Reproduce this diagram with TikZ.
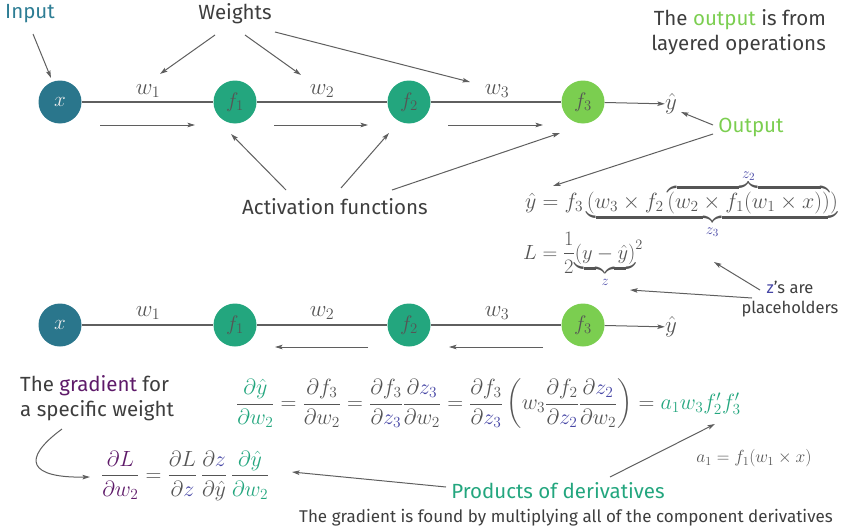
\RequirePackage{fix-cm}
\documentclass[tikz,border=0pt]{standalone}
\usepackage{fontspec}
\setmainfont{Fira Sans}
\usepackage{amsmath}
\usetikzlibrary{arrows.meta}
\definecolor{cx}{RGB}{42,118,140}
\definecolor{cf}{RGB}{35,166,126}
\definecolor{cft}{RGB}{123,206,80}
\definecolor{cin}{RGB}{45,125,148}
\definecolor{cpur}{RGB}{94,26,105}
\definecolor{cz}{RGB}{70,70,165}
\definecolor{tg}{RGB}{62,62,62}
\definecolor{mg}{RGB}{85,85,85}
\definecolor{lg}{RGB}{95,95,95}
\newcommand{\zc}[1]{{\color{cz}#1}}
\tikzset{
  nd/.style={circle, minimum size=43pt, inner sep=0pt, text=mg, font=\fontsize{21}{21}\selectfont},
  lbl/.style={text=tg, font=\fontsize{20.5}{25}\selectfont, inner sep=0pt},
  wl/.style={text=mg, font=\fontsize{23}{23}\selectfont, inner sep=0pt},
  eq/.style={text=mg, font=\fontsize{22}{26}\selectfont, inner sep=0pt},
  ln/.style={draw=lg, line width=1.1pt},
  arr/.style={draw=lg, line width=1pt, -{Stealth[length=7.5pt,width=4.5pt,inset=1.5pt]}},
}
\begin{document}
\begin{tikzpicture}[x=1pt,y=-1pt]
\useasboundingbox (0,0) rectangle (844,530);
% ---------- top row ----------
\node[nd, fill=cx, text=white!85!gray] (xa) at (60,102) {$x$};
\node[nd, fill=cf] (fa1) at (235,102) {$f_1$};
\node[nd, fill=cf] (fa2) at (409,102) {$f_2$};
\node[nd, fill=cft] (fa3) at (583,102) {$f_3$};
\node[wl] (ya) at (671,104) {$\hat y$};
\draw[ln] (xa) -- (fa1);
\draw[ln] (fa1) -- (fa2);
\draw[ln] (fa2) -- (fa3);
\draw[arr] (fa3) -- (ya);
\node[wl] (wa1) at (148,91) {$w_1$};
\node[wl] (wa2) at (322,91) {$w_2$};
\node[wl] (wa3) at (497,91) {$w_3$};
\coordinate (fw1s) at (100,125); \coordinate (fw1e) at (195,125);
\coordinate (fw2s) at (274,125); \coordinate (fw2e) at (368,125);
\coordinate (fw3s) at (448,125); \coordinate (fw3e) at (543,125);
\draw[arr] (fw1s) -- (fw1e);
\draw[arr] (fw2s) -- (fw2e);
\draw[arr] (fw3s) -- (fw3e);
% labels
\node[lbl, text=cin] (input) at (30,14) {Input};
\node[lbl] (weights) at (235,14) {Weights};
\node[lbl] (act) at (335,207) {Activation functions};
\node[lbl, align=right, anchor=north east] (outtxt) at (826,9) {The {\color{cft}output} is from\\layered operations};
\node[lbl, text=cft] (output) at (751,127) {Output};
\coordinate (t1) at (51,78);
\draw[arr] (33,34) -- (t1);
\coordinate (t2) at (160,74); \coordinate (t3) at (301,75); \coordinate (t4) at (470,82);
\draw[arr] (215,35) -- (t2);
\draw[arr] (245,35) -- (t3);
\draw[arr] (275,32) -- (t4);
\coordinate (t5) at (231,134); \coordinate (t6) at (389,133); \coordinate (t7) at (560,133);
\draw[arr] (286,190) -- (t5);
\draw[arr] (341,188) -- (t6);
\draw[arr] (392,190) -- (t7);
\coordinate (t8) at (681,112); \coordinate (t9) at (553,186);
\draw[arr] (713,125) -- (t8);
\draw[arr] (713,134) -- (t9);
% equations right
\node[eq, anchor=base west] (yeq) at (525,208) {$\hat y = f_3\underbrace{(w_3\times f_2\overbrace{(w_2\times f_1(w_1\times x))}^{\zc{z_2}})}_{\zc{z_3}}$};
\node[eq, anchor=base west, font=\fontsize{20.5}{24}\selectfont] (leq) at (523,259) {$L=\dfrac12{\underbrace{(y-\hat y)}_{\zc{z}}}^2$};
\node[lbl, align=center, font=\fontsize{16.5}{20}\selectfont] (zs) at (790,299) {\zc{z}'s are\\placeholders};
\coordinate (t10) at (714,262); \coordinate (t11) at (630,290);
\draw[arr] (760,290) -- (t10);
\draw[arr] (752,298) -- (t11);
% ---------- second row ----------
\node[nd, fill=cx, text=white!85!gray] (xb) at (60,325) {$x$};
\node[nd, fill=cf] (fb1) at (235,325) {$f_1$};
\node[nd, fill=cf] (fb2) at (409,325) {$f_2$};
\node[nd, fill=cft] (fb3) at (583,325) {$f_3$};
\node[wl] (yb) at (671,327) {$\hat y$};
\draw[ln] (xb) -- (fb1);
\draw[ln] (fb1) -- (fb2);
\draw[ln] (fb2) -- (fb3);
\draw[arr] (fb3) -- (yb);
\node[wl] (wb1) at (148,313) {$w_1$};
\node[wl] (wb2) at (322,313) {$w_2$};
\node[wl] (wb3) at (497,313) {$w_3$};
\coordinate (bw2s) at (368,347); \coordinate (bw2e) at (275,347);
\coordinate (bw3s) at (543,347); \coordinate (bw3e) at (449,347);
\draw[arr] (bw2s) -- (bw2e);
\draw[arr] (bw3s) -- (bw3e);
% ---------- bottom ----------
\node[lbl, align=left, anchor=north west] (grad) at (20,375) {The {\color{cpur}gradient} for\\a specific weight};
\node[eq, anchor=west] (deq) at (236,404) {$\dfrac{\color{cf}\partial\hat y}{\color{cf}\partial w_2}=\dfrac{\partial f_3}{\partial w_2}=\dfrac{\partial f_3}{\partial \zc{z_3}}\dfrac{\partial \zc{z_3}}{\partial w_2}=\dfrac{\partial f_3}{\partial \zc{z_3}}\left(w_3\dfrac{\partial f_2}{\partial \zc{z_2}}\dfrac{\partial \zc{z_2}}{\partial w_2}\right)={\color{cf}a_1w_3f_2'f_3'}$};
\node[eq, anchor=west] (leq2) at (101,476) {$\dfrac{\color{cpur}\partial L}{\color{cpur}\partial w_2}=\dfrac{\partial L}{\partial \zc{z}}\,\dfrac{\partial \zc{z}}{\partial\hat y}\,\dfrac{\color{cf}\partial\hat y}{\color{cf}\partial w_2}$};
\node[eq, font=\fontsize{17.5}{20}\selectfont] (a1) at (754,458) {$a_1=f_1(w_1\times x)$};
\node[lbl, text=cf] (prod) at (558,491) {Products of derivatives};
\node[lbl, font=\fontsize{17}{20}\selectfont] (bot) at (566,518) {The gradient is found by multiplying all of the component derivatives};
\coordinate (t12) at (90,477);
\draw[arr] (62,429) .. controls (20,460) and (30,478) .. (t12);
\coordinate (t13) at (292,472); \coordinate (t14) at (715,424);
\draw[arr] (446,487) -- (t13);
\draw[arr] (610,477) -- (t14);
\end{tikzpicture}
\end{document}
